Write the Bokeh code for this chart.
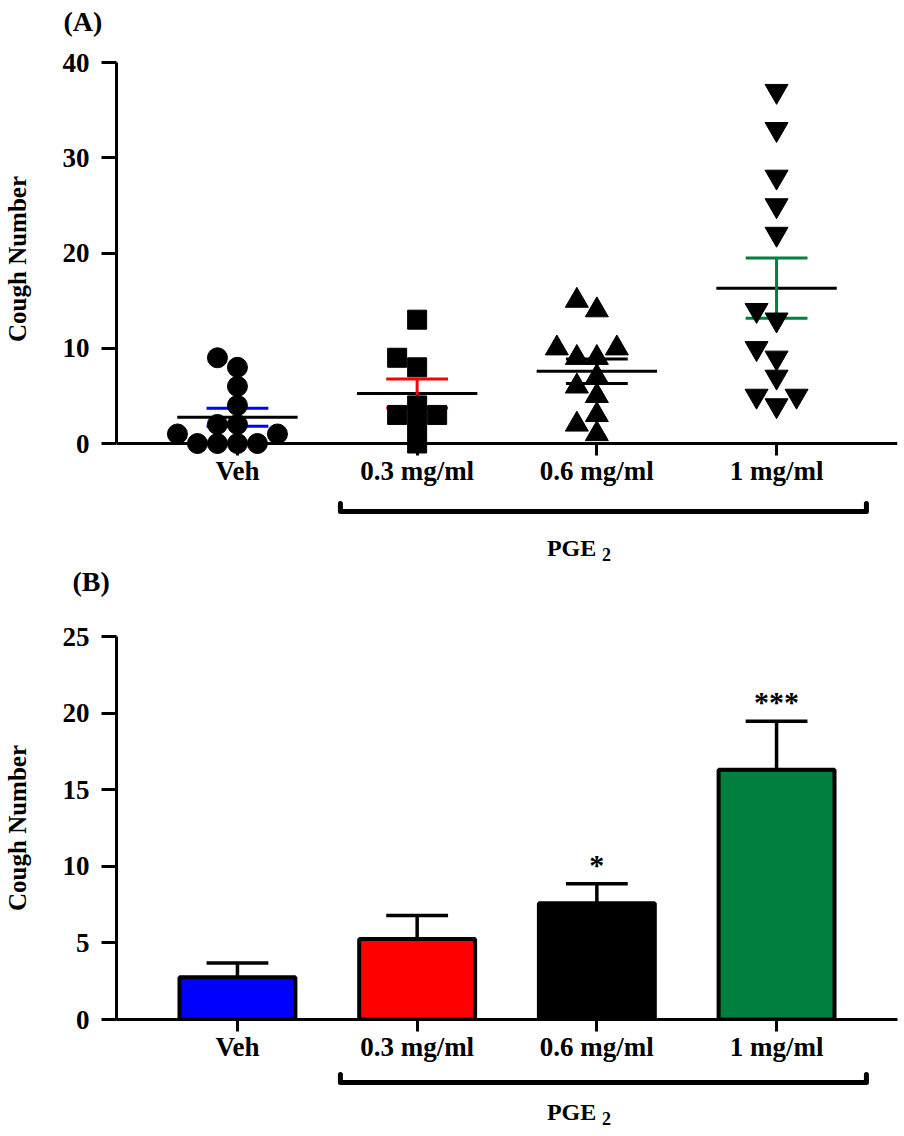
import numpy as np
from bokeh.plotting import figure
from bokeh.layouts import column
from bokeh.models import FixedTicker, Range1d, Span
from bokeh.core.properties import value
from bokeh.embed import file_html
from bokeh.resources import INLINE

# ---------------- data ----------------
categories = ["Veh", "0.3 mg/ml", "0.6 mg/ml", "1 mg/ml"]
veh = [0, 0, 0, 0, 1, 1, 2, 2, 4, 6, 8, 9]
pge2_03 = [0, 2, 3, 3, 4, 8, 9, 13]
pge2_06 = [1, 2, 3, 5, 6, 7, 9, 9, 10, 10, 14, 15]
pge2_1 = [4, 5, 5, 7, 9, 10, 13, 14, 22, 25, 28, 33, 37]
group_colors = ["#0000FF", "#FF0000", "#000000", "#007F3F"]
group_markers = ["circle", "square", "triangle", "inverted_triangle"]
significance = ["", "", "*", "***"]
y_ticks_a = [0, 10, 20, 30, 40]
y_ticks_b = [0, 5, 10, 15, 20, 25]
y_title = "Cough Number"
treatment = "PGE"
treatment_sub = "2"
treated = [1, 2, 3]
panel_tags = ["(A)", "(B)"]

groups = [veh, pge2_03, pge2_06, pge2_1]
idx = list(range(len(categories)))
means = [float(np.mean(g)) for g in groups]
sems = [float(np.std(g, ddof=1) / np.sqrt(len(g))) for g in groups]
lo = [m - s for m, s in zip(means, sems)]
hi = [m + s for m, s in zip(means, sems)]

# ---------------- layout ----------------
FONT = "Liberation Serif"
W = 904
LEFT, RIGHT = 116, 7
X_LO, X_HI = -0.673, 3.673
PX_X = (W - LEFT - RIGHT) / (X_HI - X_LO)

TAG_BORDER = 36
H_TAG = TAG_BORDER + 2

PX_YA = 9.525
TICK = 12
YA_LO, YA_HI = -TICK / PX_YA, 40
TOP_A, BOT_A = 24, 38
FRAME_A = int(round((YA_HI - YA_LO) * PX_YA))
H_A = TOP_A + FRAME_A + BOT_A

FRAME_BRA = 70
H_BRA = FRAME_BRA + TAG_BORDER
TOP_B, FRAME_B, BOT_B = 37, 383, 50
H_B = TOP_B + FRAME_B + BOT_B
H_BRB = 1134 - H_TAG - H_A - H_BRA - H_B


def swarm(vals, px_x, px_y, d=18.0, step=10.0):
    placed, offs = [], []
    cands = [0.0]
    for j in range(1, 40):
        cands += [-j * step, j * step]
    for v in vals:
        y = v * px_y
        for c in cands:
            if all((c - px) ** 2 + (y - py) ** 2 >= d * d - 1e-9 for px, py in placed):
                break
        placed.append((c, y))
        offs.append(c / px_x)
    return offs


def style(p, yticks):
    p.xgrid.visible = False
    p.ygrid.visible = False
    p.outline_line_color = None
    p.background_fill_color = "white"
    p.border_fill_color = "white"
    p.xaxis.ticker = FixedTicker(ticks=idx)
    p.xaxis.major_label_overrides = {i: c for i, c in enumerate(categories)}
    p.yaxis.ticker = FixedTicker(ticks=yticks)
    for ax in (p.xaxis, p.yaxis):
        ax.axis_line_width = 3
        ax.axis_line_color = "black"
        ax.major_tick_line_width = 3
        ax.major_tick_line_color = "black"
        ax.major_tick_in = 0
        ax.minor_tick_line_color = None
        ax.major_label_text_font = FONT
        ax.major_label_text_font_size = "27px"
        ax.major_label_text_font_style = "bold"
        ax.major_label_text_color = "black"
    p.xaxis.major_tick_out = TICK
    p.xaxis.major_label_standoff = 0
    p.yaxis.major_tick_out = 15
    p.yaxis.major_label_standoff = 12
    p.yaxis.axis_label = y_title
    p.yaxis.axis_label_text_font = FONT
    p.yaxis.axis_label_text_font_size = "25px"
    p.yaxis.axis_label_text_font_style = "bold"
    p.yaxis.axis_label_text_color = "black"
    p.yaxis.axis_label_standoff = 29


def strip(frame_h, top=0, bottom=0, tag=None, tag_offset=0, tag_loc="above"):
    f = figure(width=W, height=frame_h + top + bottom, x_range=Range1d(X_LO, X_HI),
               y_range=Range1d(0, frame_h), toolbar_location=None, output_backend="svg",
               x_axis_type=None, y_axis_type=None, title_location=tag_loc,
               min_border_left=LEFT, min_border_right=RIGHT, min_border_top=top,
               min_border_bottom=bottom)
    f.xgrid.visible = False
    f.ygrid.visible = False
    f.outline_line_color = None
    if tag:
        f.title.text = tag
        f.title.align = "left"
        f.title.offset = tag_offset
        f.title.standoff = 0
        f.title.text_font = FONT
        f.title.text_font_size = "28px"
        f.title.text_font_style = "bold"
        f.title.text_color = "black"
    return f


def bracket(f, line_y, cap, text_y):
    x0 = treated[0] - 0.427
    x1 = treated[-1] + 0.5
    f.line(x=[x0, x0, x1, x1], y=[line_y + cap, line_y, line_y, line_y + cap], line_color="black",
           line_width=5, line_join="round", line_cap="round")
    xc = float(np.mean(treated)) - 0.1
    f.text(x=[xc], y=[text_y], text=[treatment], x_offset=-32, text_align="left",
           text_baseline="middle", text_font=value(FONT), text_font_size="24px",
           text_font_style="bold", text_color="black")
    f.text(x=[xc], y=[text_y], text=[treatment_sub], x_offset=23, y_offset=7, text_align="left",
           text_baseline="middle", text_font=value(FONT), text_font_size="18px",
           text_font_style="bold", text_color="black")


# ---------------- tag (A) ----------------
tag_a = strip(2, top=TAG_BORDER, tag=panel_tags[0], tag_offset=-53, tag_loc="above")

# ---------------- panel A ----------------
pa = figure(width=W, height=H_A, x_range=Range1d(X_LO, X_HI), y_range=Range1d(YA_LO, YA_HI),
            toolbar_location=None, output_backend="svg",
            min_border_left=LEFT, min_border_right=RIGHT, min_border_top=TOP_A, min_border_bottom=BOT_A)
style(pa, y_ticks_a)
pa.yaxis.bounds = (0, 40)
pa.xaxis.axis_line_color = None
pa.xaxis.major_tick_in = TICK
pa.xaxis.major_tick_out = 0
pa.add_layout(Span(location=0, dimension="width", line_color="black", line_width=3))

half_mean = 0.335
half_cap = 0.172
pa.segment(x0=[i - half_mean for i in idx], x1=[i + half_mean for i in idx],
           y0=means, y1=means, line_color="black", line_width=3)
pa.segment(x0=idx, x1=idx, y0=lo, y1=hi, line_color=group_colors, line_width=3)
pa.segment(x0=[i - half_cap for i in idx], x1=[i + half_cap for i in idx], y0=hi, y1=hi,
           line_color=group_colors, line_width=3)
pa.segment(x0=[i - half_cap for i in idx], x1=[i + half_cap for i in idx], y0=lo, y1=lo,
           line_color=group_colors, line_width=3)

marker_sizes = {"circle": 20, "square": 19, "triangle": 23, "inverted_triangle": 23}
for i, (g, mk) in enumerate(zip(groups, group_markers)):
    offs = swarm(g, PX_X, PX_YA)
    pa.scatter(x=[i + o for o in offs], y=g, marker=mk, size=marker_sizes[mk],
               fill_color="black", line_color="black", line_width=1)

# ---------------- bracket A + tag (B) ----------------
mid = strip(FRAME_BRA, bottom=TAG_BORDER, tag=panel_tags[1], tag_offset=-44, tag_loc="below")
bracket(mid, FRAME_BRA - 18, 8, FRAME_BRA - 54)

# ---------------- panel B ----------------
pb = figure(width=W, height=H_B, x_range=Range1d(X_LO, X_HI), y_range=Range1d(0, 25),
            toolbar_location=None, output_backend="svg",
            min_border_left=LEFT, min_border_right=RIGHT, min_border_top=TOP_B, min_border_bottom=BOT_B)
style(pb, y_ticks_b)

pb.segment(x0=idx, x1=idx, y0=means, y1=hi, line_color="black", line_width=3.5)
pb.segment(x0=[i - half_cap for i in idx], x1=[i + half_cap for i in idx], y0=hi, y1=hi,
           line_color="black", line_width=3.5)
pb.vbar(x=idx, top=means, bottom=0, width=0.645, fill_color=group_colors,
        line_color="black", line_width=4)
sig_x = [i for i in idx if significance[i]]
pb.text(x=sig_x, y=[hi[i] for i in sig_x], text=[significance[i] for i in sig_x],
        text_align="center", text_baseline="bottom", y_offset=-3,
        text_font=value(FONT), text_font_size="30px", text_font_style="bold", text_color="black")

# ---------------- bracket B ----------------
bot = strip(H_BRB)
bracket(bot, H_BRB - 13, 8, H_BRB - 42)

layout = column(tag_a, pa, mid, pb, bot, spacing=0)
open("out.html", "w").write(file_html(layout, INLINE))
